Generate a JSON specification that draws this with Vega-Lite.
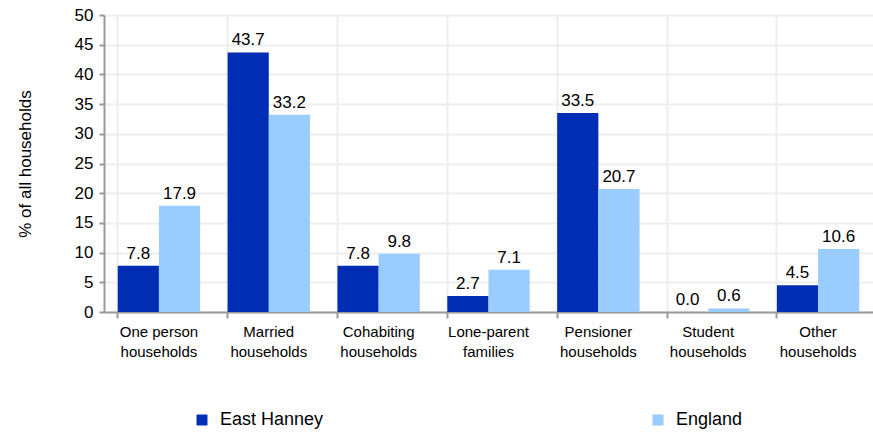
{
  "$schema": "https://vega.github.io/schema/vega-lite/v6.json",
  "width": 769,
  "height": 297,
  "autosize": "none",
  "padding": {"left": 104, "top": 15, "right": 0, "bottom": 120},
  "background": "white",
  "config": {
    "font": "Liberation Sans",
    "view": {"stroke": null}
  },
  "data": {
    "values": [
      {"category": "One person households", "area": "East Hanney", "value": 7.8},
      {"category": "One person households", "area": "England", "value": 17.9},
      {"category": "Married households", "area": "East Hanney", "value": 43.7},
      {"category": "Married households", "area": "England", "value": 33.2},
      {"category": "Cohabiting households", "area": "East Hanney", "value": 7.8},
      {"category": "Cohabiting households", "area": "England", "value": 9.8},
      {"category": "Lone-parent families", "area": "East Hanney", "value": 2.7},
      {"category": "Lone-parent families", "area": "England", "value": 7.1},
      {"category": "Pensioner households", "area": "East Hanney", "value": 33.5},
      {"category": "Pensioner households", "area": "England", "value": 20.7},
      {"category": "Student households", "area": "East Hanney", "value": 0.0},
      {"category": "Student households", "area": "England", "value": 0.6},
      {"category": "Other households", "area": "East Hanney", "value": 4.5},
      {"category": "Other households", "area": "England", "value": 10.6}
    ]
  },
  "encoding": {
    "x": {
      "field": "category",
      "type": "nominal",
      "sort": null,
      "scale": {"paddingInner": 0.25, "paddingOuter": 0.125},
      "axis": {
        "title": null,
        "labelAngle": 0,
        "labelFontSize": 15,
        "labelColor": "#000000",
        "labelPadding": 6,
        "labelLineHeight": 20,
        "labelExpr": "datum.label == 'One person households' ? ['One person', 'households'] : split(datum.label, ' ')",
        "bandPosition": 0,
        "grid": true,
        "gridColor": "#eeeeee",
        "gridWidth": 2,
        "domainColor": "#999999",
        "domainWidth": 2,
        "tickColor": "#999999",
        "tickWidth": 2,
        "tickSize": 6
      }
    },
    "xOffset": {"field": "area", "type": "nominal", "scale": {"paddingInner": 0, "paddingOuter": 0}},
    "y": {
      "field": "value",
      "type": "quantitative",
      "scale": {"domain": [0, 50]},
      "axis": {
        "title": "% of all households",
        "titleFontSize": 17,
        "titleFontWeight": "normal",
        "titleColor": "#000000",
        "titlePadding": 40,
        "values": [0, 5, 10, 15, 20, 25, 30, 35, 40, 45, 50],
        "labelFontSize": 17,
        "labelColor": "#000000",
        "labelPadding": 6,
        "grid": true,
        "gridColor": "#eeeeee",
        "gridWidth": 2,
        "domainColor": "#999999",
        "domainWidth": 2,
        "tickColor": "#999999",
        "tickWidth": 2,
        "tickSize": 5
      }
    }
  },
  "layer": [
    {
      "mark": {"type": "bar"},
      "encoding": {
        "color": {
          "field": "area",
          "type": "nominal",
          "scale": {"domain": ["East Hanney", "England"], "range": ["#002db3", "#99ccff"]},
          "legend": {
            "title": null,
            "orient": "none",
            "legendX": 89,
            "legendY": 396,
            "direction": "horizontal",
            "columns": 2,
            "columnPadding": 325,
            "symbolType": "square",
            "symbolSize": 120,
            "symbolStrokeWidth": 0,
            "labelFontSize": 18,
            "labelColor": "#000000",
            "labelOffset": 9
          }
        }
      }
    },
    {
      "mark": {"type": "text", "baseline": "bottom", "dy": -3, "fontSize": 17, "color": "#000000"},
      "encoding": {
        "text": {"field": "value", "type": "quantitative", "format": ".1f"}
      }
    }
  ]
}
